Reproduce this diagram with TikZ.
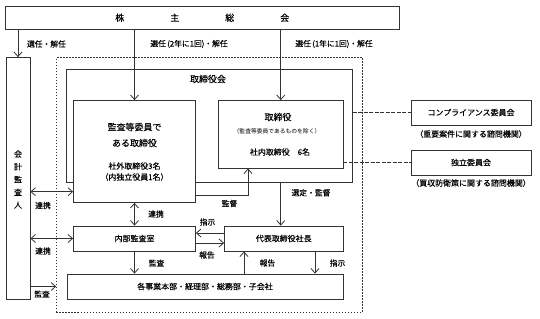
\documentclass[tikz,border=0pt]{standalone}
\usepackage{fontspec}
\setmainfont{Noto Sans CJK JP}[FakeBold=0.15]
\newfontfamily\thinfont{Noto Sans CJK JP}
\usetikzlibrary{arrows.meta,calc}
\begin{document}
\begin{tikzpicture}[x=1bp,y=-1bp,
  line width=0.8bp,
  box/.style={draw=black!80, fill=white, rectangle, inner sep=0pt, line width=0.8bp},
  lbl/.style={inner sep=0pt, font=\fontsize{7.8}{9}\selectfont, text=black},
  txt/.style={inner sep=0pt, font=\fontsize{8}{9}\selectfont, text=black},
  head/.style={inner sep=0pt, font=\fontsize{9}{10}\selectfont, text=black},
  tinytxt/.style={inner sep=0pt, font=\thinfont\fontsize{5.8}{7}\selectfont, text=black},
  conn/.style={draw=black!80, line width=0.8bp},
  arr/.style={conn, -{Straight Barb[length=4.5bp,width=8bp]}},
  darr/.style={conn, {Straight Barb[length=4.5bp,width=8bp]}-{Straight Barb[length=4.5bp,width=8bp]}},
  dashline/.style={conn, dash pattern=on 4bp off 1.5bp, line width=0.7bp},
]
\useasboundingbox (0,0) rectangle (540,318);
\fill[white] (0,0) rectangle (540,318);

% frames
\node[draw=black!80, line width=0.7bp, dash pattern=on 1.6bp off 1.4bp, inner sep=0pt,
      minimum width=305.5bp, minimum height=255bp] (frame) at (209.25,185) {};
\node[box, minimum width=286bp, minimum height=113.5bp] (torikai) at (209.5,125.75) {};

% boxes
\node[box, minimum width=393.5bp, minimum height=23.5bp] (kabu) at (202.25,17.75) {};
\node[box, minimum width=24bp, minimum height=241.5bp] (kaikei) at (18,178.25) {};
\node[box, minimum width=122bp, minimum height=102bp] (kansa) at (134.5,151.5) {};
\node[box, minimum width=124.5bp, minimum height=67.5bp] (tori) at (280.75,134.25) {};
\node[box, minimum width=120bp, minimum height=25bp] (comp) at (471,112.5) {};
\node[box, minimum width=120bp, minimum height=25bp] (doku) at (471,162.5) {};
\node[box, minimum width=122bp, minimum height=25bp] (naibu) at (134.5,238.5) {};
\node[box, minimum width=118.5bp, minimum height=25bp] (daihyo) at (283.75,238.5) {};
\node[box, minimum width=276bp, minimum height=25bp] (kaku) at (205,286.5) {};

% texts
\node[inner sep=0pt, font=\fontsize{9}{10}\selectfont, text=black] (kabut) at (kabu)
  {株\hspace{46bp}主\hspace{46bp}総\hspace{46bp}会};
\node[inner sep=0pt, align=center, font=\fontsize{8}{12.8}\selectfont, text=black] (kaikeit) at (18,179.5)
  {会\\計\\監\\査\\人};
\node[head] (tkt) at (208,79) {取締役会};
\node[head] (k1) at (134.5,127) {監査等委員で};
\node[head] (k2) at (134.5,143) {ある取締役};
\node[txt] (k3) at (134.5,166) {社外取締役3名};
\node[txt] (k4) at (134.5,177) {（内独立役員1名）};
\node[head] (t1) at (278,117) {取締役};
\node[tinytxt] (t2) at (277,131) {（監査等委員であるものを除く）};
\node[txt] (t3) at (280,152) {社内取締役　6名};
\node[txt] (compt) at (comp) {コンプライアンス委員会};
\node[txt] (compl) at (471,134) {（重要案件に関する諮問機関）};
\node[txt] (dokut) at (doku) {独立委員会};
\node[txt] (dokul) at (471,183) {（買収防衛策に関する諮問機関）};
\node[txt] (naibut) at (naibu) {内部監査室};
\node[txt] (daihyot) at (daihyo) {代表取締役社長};
\node[txt] (kakut) at (kaku) {各事業本部・経理部・総務部・子会社};

% labels
\node[lbl] (l1) at (46.5,44) {選任・解任};
\node[lbl, anchor=west] (l2) at (150,44) {選任\,(2年に1回)・解任};
\node[lbl, anchor=west] (l3) at (295,44) {選任\,(1年に1回)・解任};
\node[lbl] (l4) at (43,205.5) {連携};
\node[lbl] (l5) at (43,251) {連携};
\node[lbl] (l6) at (42,294) {監査};
\node[lbl] (l7) at (229.5,203.5) {監督};
\node[lbl] (l8) at (311,192.7) {選定・監督};
\node[lbl] (l9) at (156,214) {連携};
\node[lbl] (l10) at (207.5,222) {指示};
\node[lbl] (l11) at (207,255) {報告};
\node[lbl] (l12) at (156.5,263) {監査};
\node[lbl] (l13) at (267.5,263) {報告};
\node[lbl] (l14) at (337.5,263) {指示};

% helper rows
\coordinate (r1) at (0,191.7);
\coordinate (r2) at (0,195);
\coordinate (c1) at (248,0);

% connectors
\draw[arr] (kaikei.north |- kabu.south) -- (kaikei.north);
\draw[arr] (kansa.north |- kabu.south) -- (kansa.north);
\draw[arr] (tori.north |- kabu.south) -- (tori.north);
\draw[dashline] (torikai.east |- comp.west) -- (comp.west);
\draw[dashline] (tori.east |- doku.west) -- (doku.west);
\draw[arr] (kansa.east |- r2) -| (c1 |- tori.south);
\draw[arr] (tori.south |- torikai.south) -- (tori.south |- daihyo.north);
\draw[darr] (kansa.south) -- (naibu.north);
\draw[darr] (kaikei.east |- r1) -- (kansa.west |- r1);
\draw[darr] (kaikei.east |- naibu.west) -- (naibu.west);
\draw[arr] (kaikei.east |- kaku.west) -- (frame.west |- kaku.west);
\draw[arr] ([yshift=5.5bp]daihyo.west) -- ([yshift=5.5bp]naibu.east);
\draw[arr] ([yshift=-4.5bp]naibu.east) -- ([yshift=-4.5bp]daihyo.west);
\draw[arr] (naibu.south) -- (naibu.south |- kaku.north);
\draw[arr] ([xshift=-39.75bp]daihyo.south |- kaku.north) -- ([xshift=-39.75bp]daihyo.south);
\draw[arr] ([xshift=31.25bp]daihyo.south) -- ([xshift=31.25bp]daihyo.south |- kaku.north);
\end{tikzpicture}
\end{document}
